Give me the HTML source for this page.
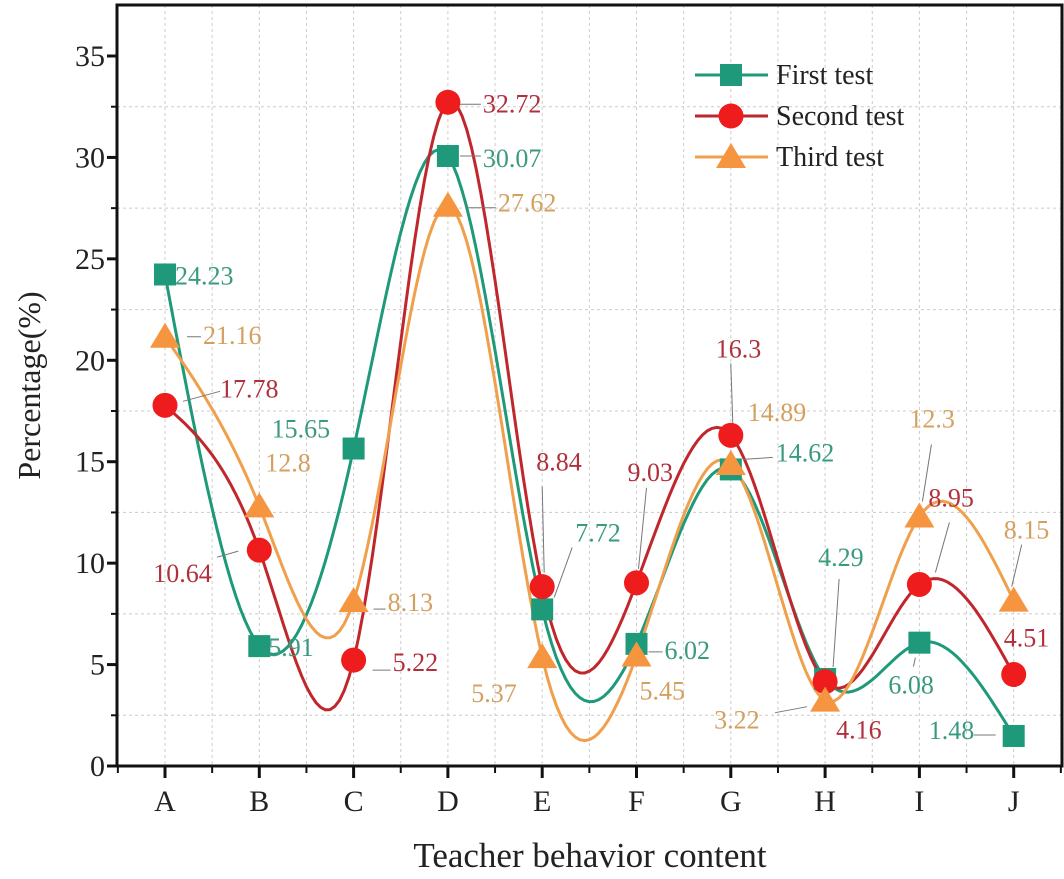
<!DOCTYPE html>
<html><head><meta charset="utf-8"><style>
body{margin:0;background:#fff;}
svg{display:block;font-family:"Liberation Serif",serif;}
</style></head><body>
<svg id="c" width="1064" height="879"></svg>
<script>
const categories=["A","B","C","D","E","F","G","H","I","J"];
const first=[24.23,5.91,15.65,30.07,7.72,6.02,14.62,4.29,6.08,1.48];
const second=[17.78,10.64,5.22,32.72,8.84,9.03,16.3,4.16,8.95,4.51];
const third=[21.16,12.8,8.13,27.62,5.37,5.45,14.89,3.22,12.3,8.15];
const yTicks=[0,5,10,15,20,25,30,35];
// label offsets [dx,dy] relative to the point (placement, not data)
const offFirst=[[10,10],[9,10],[-82,-11],[35,11],[33,-68],[28,15],[45,-8],[-7,-113],[-31,51],[-85,3]];
const offSecond=[[55,-8],[-106,32],[39,11],[35,10],[-6,-116],[-9,-102],[-15,-78],[11,57],[9,-78],[-10,-28]];
const offThird=[[38,7],[6,-35],[34,10],[50,6],[-71,45],[3,44],[17,-43],[-111,28],[-10,-89],[-10,-62]];
// leader segments relative to point: [x1,y1,x2,y2] or null
const leadFirst=[null,null,null,[12,0,33,0],[12,-12,30,-62],[12,8,26,8],[12,-10,42,-12],[8,-12,14,-100],[-4,15,-6,24],[-40,-1,-18,-1]];
const leadSecond=[[18,-4,55,-14],[-42,7,-21,1],[19,10,37,10],[12,2,33,2],[2,-14,0,-100],[2,-14,10,-95],[2,-12,0,-72],null,[16,-12,30,-62],null];
const leadThird=[[22,0,36,0],null,[20,8,32,8],[18,2,48,2],null,null,null,[-18,6,-50,12],[3,-15,12,-72],[-2,-14,8,-56]];
const S="http://www.w3.org/2000/svg";
const svg=document.getElementById('c');
const L=117,R=1062,T=5,B=766;
const x=i=>165+i*94.3;
const y=v=>B-v*(B-56)/35;
function el(t,a,p){const e=document.createElementNS(S,t);for(const k in a)e.setAttribute(k,a[k]);(p||svg).appendChild(e);return e;}
for(let v=2.5;v<36;v+=5){const g=el('line',{x1:L,x2:R,y1:y(v),y2:y(v),stroke:'#ccc','stroke-dasharray':'3,3'});

}
for(let i=0;i<10;i++){for(const h of [0,0.5]){if(i+h>9.6)continue;const g=el('line',{x1:x(i+h),x2:x(i+h),y1:T,y2:B,stroke:'#ccc','stroke-dasharray':'3,3'});

}}
const ax=el('path',{d:`M${L},${B}H${R}V${T}H${L}Z`,fill:'none',stroke:'#111','stroke-width':3});


yTicks.forEach(v=>{el('line',{x1:L-10,x2:L,y1:y(v),y2:y(v),stroke:'#111','stroke-width':3});
if(v<35){el('line',{x1:L-6,x2:L,y1:y(v+2.5),y2:y(v+2.5),stroke:'#111','stroke-width':2});}
const t=el('text',{x:L-12,y:y(v)+10,'text-anchor':'end','font-size':30,fill:'#222'});t.textContent=v;

});
categories.forEach((c,i)=>{el('line',{x1:x(i),x2:x(i),y1:B,y2:B+12,stroke:'#111','stroke-width':3});
el('line',{x1:x(i-0.5),x2:x(i-0.5),y1:B,y2:B+7,stroke:'#111','stroke-width':2});
const t=el('text',{x:x(i),y:B+45,'text-anchor':'middle','font-size':30,fill:'#222'});t.textContent=c;

});
el('line',{x1:x(9.5),x2:x(9.5),y1:B,y2:B+7,stroke:'#111','stroke-width':2});
let t=el('text',{x:590,y:867,'text-anchor':'middle','font-size':35,fill:'#222'});t.textContent='Teacher behavior content';


t=el('text',{x:0,y:0,transform:`translate(40,${(T+B)/2}) rotate(-90)`,'text-anchor':'middle','font-size':32,fill:'#222'});t.textContent='Percentage(%)';


function spline(ys){const n=ys.length,a=ys.slice(),c=new Array(n).fill(0);
const al=[],l=[1],mu=[0],z=[0];
for(let i=1;i<n-1;i++)al[i]=3*(a[i+1]-2*a[i]+a[i-1]);
for(let i=1;i<n-1;i++){l[i]=4-mu[i-1];mu[i]=1/l[i];z[i]=(al[i]-z[i-1])/l[i];}
const b=[],d=[];
for(let j=n-2;j>=0;j--){c[j]=z[j]-mu[j]*c[j+1];b[j]=a[j+1]-a[j]-(c[j+1]+2*c[j])/3;d[j]=(c[j+1]-c[j])/3;}
let p='';for(let j=0;j<n-1;j++)for(let s=0;s<=20;s++){const u=s/20;const v=a[j]+b[j]*u+c[j]*u*u+d[j]*u*u*u;p+=(p?'L':'M')+x(j+u).toFixed(1)+','+y(v).toFixed(1);}return p;}
const series=[{d:first,col:'#1e9a7a',txt:'#3a9a80',name:'first',off:offFirst,ld:leadFirst,m:'sq',lab:'First test'},
{d:second,col:'#c0272d',txt:'#b0303c',name:'second',off:offSecond,ld:leadSecond,m:'ci',lab:'Second test'},
{d:third,col:'#f0a04c',txt:'#d4a060',name:'third',off:offThird,ld:leadThird,m:'tr',lab:'Third test'}];
function marker(m,cx,cy,p){let e;
if(m==='sq')e=el('rect',{x:cx-11,y:cy-11,width:22,height:22,fill:'#1e9a7a'},p);
else if(m==='ci')e=el('circle',{cx:cx,cy:cy,r:12.5,fill:'#ee1c1c'},p);
else e=el('path',{d:`M${cx},${cy-14}L${cx+15},${cy+11}L${cx-15},${cy+11}Z`,fill:'#f6953f'},p);return e;}
series.forEach(s=>{const g=el('g',{});


const ln=el('path',{d:spline(s.d),fill:'none',stroke:s.col,'stroke-width':3},g);

});
series.forEach(s=>{s.d.forEach((v,i)=>{const px=x(i),py=y(v);
const q=s.ld[i];if(q){const ll=el('line',{x1:px+q[0],y1:py+q[1],x2:px+q[2],y2:py+q[3],stroke:'#777','stroke-width':1});

}
const mk=marker(s.m,px,py);


const o=s.off[i];
const lb=el('text',{x:px+o[0],y:py+o[1],'font-size':26,fill:s.txt});lb.textContent=v;

});});
series.forEach((s,k)=>{const ly=75+k*41;
el('line',{x1:695,x2:768,y1:ly,y2:ly,stroke:s.col,'stroke-width':3});
const mk=marker(s.m,731,ly);


const lt=el('text',{x:776,y:ly+9,'font-size':28,fill:'#222'});lt.textContent=s.lab;

});
</script>
</body></html>
